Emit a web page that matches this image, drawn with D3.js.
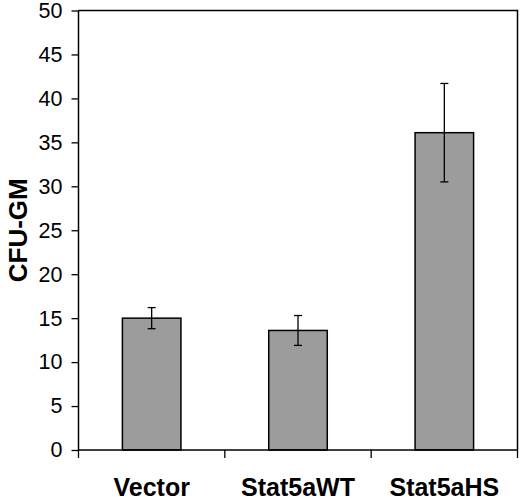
<!DOCTYPE html>
<html><head><meta charset="utf-8">
<script src="https://cdn.jsdelivr.net/npm/d3@7"></script>
<style>body{margin:0;background:#fff}</style>
</head><body>
<svg id="c" width="520" height="500"></svg>
<script>
const categories = ["Vector", "Stat5aWT", "Stat5aHS"];
const values = [15.0, 13.6, 36.1];
const errors = [1.2, 1.7, 5.6];
const yTicks = [0, 5, 10, 15, 20, 25, 30, 35, 40, 45, 50];
const yTitle = "CFU-GM";

const svg = d3.select("#c");
const L = 78.5, R = 517.5, T = 10.5, B = 450;
const x = d3.scaleBand().domain(categories).range([L, R]).paddingInner(0.6).paddingOuter(0.3);
const xb = d3.scaleBand().domain(categories).range([L, R]);
const y = d3.scaleLinear().domain([0, 50]).range([B, T]);
const font = "Liberation Sans, Arial, sans-serif";

// plot box top & right
svg.append("path").attr("d", `M${L},${T}H${R}V${B}`).attr("fill", "none").attr("stroke", "#000").attr("stroke-width", 1.5);

// bars
svg.selectAll("rect.bar").data(values).enter().append("rect")
  .attr("x", (d, i) => x(categories[i]))
  .attr("width", x.bandwidth())
  .attr("y", d => y(d))
  .attr("height", d => B - y(d))
  .attr("fill", "#9c9c9c").attr("stroke", "#000").attr("stroke-width", 1.5);

// error bars
const eg = svg.selectAll("g.err").data(values).enter().append("g")
  .attr("stroke", "#000").attr("stroke-width", 1.3);
eg.append("line")
  .attr("x1", (d, i) => x(categories[i]) + x.bandwidth() / 2)
  .attr("x2", (d, i) => x(categories[i]) + x.bandwidth() / 2)
  .attr("y1", (d, i) => y(d + errors[i])).attr("y2", (d, i) => y(d - errors[i]));
[1, -1].forEach(s => {
  eg.append("line")
    .attr("x1", (d, i) => x(categories[i]) + x.bandwidth() / 2 - 4)
    .attr("x2", (d, i) => x(categories[i]) + x.bandwidth() / 2 + 4)
    .attr("y1", (d, i) => y(d + s * errors[i])).attr("y2", (d, i) => y(d + s * errors[i]));
});

// y axis
const ya = svg.append("g").attr("transform", `translate(${L},0)`)
  .call(d3.axisLeft(y).tickValues(yTicks).tickSize(7).tickPadding(9));
ya.select(".domain").attr("stroke-width", 1.5).attr("d", `M0,${B}V${T}`);
ya.selectAll(".tick line").attr("stroke-width", 1.3);
ya.selectAll(".tick text").attr("font-family", font).attr("font-size", 21.5).attr("fill", "#000");

// x axis
const xa = svg.append("g").attr("transform", `translate(0,${B})`)
  .call(d3.axisBottom(xb).tickSize(0).tickPadding(28));
xa.select(".domain").attr("stroke-width", 1.5).attr("d", `M${L},0H${R}`);
xa.selectAll(".tick text").attr("font-family", font).attr("font-size", 25).attr("font-weight", "bold").attr("fill", "#000");
// boundary ticks
svg.append("g").selectAll("line").data(categories.concat(["end"])).enter().append("line")
  .attr("x1", (d, i) => i < 3 ? xb(d) : R).attr("x2", (d, i) => i < 3 ? xb(d) : R)
  .attr("y1", B).attr("y2", B + 8).attr("stroke", "#000").attr("stroke-width", 1.3);

// y title
svg.append("text").attr("transform", `translate(27,${(T + B) / 2}) rotate(-90)`)
  .attr("text-anchor", "middle").attr("font-family", font).attr("font-size", 26)
  .attr("font-weight", "bold").text(yTitle);
</script>
</body></html>
